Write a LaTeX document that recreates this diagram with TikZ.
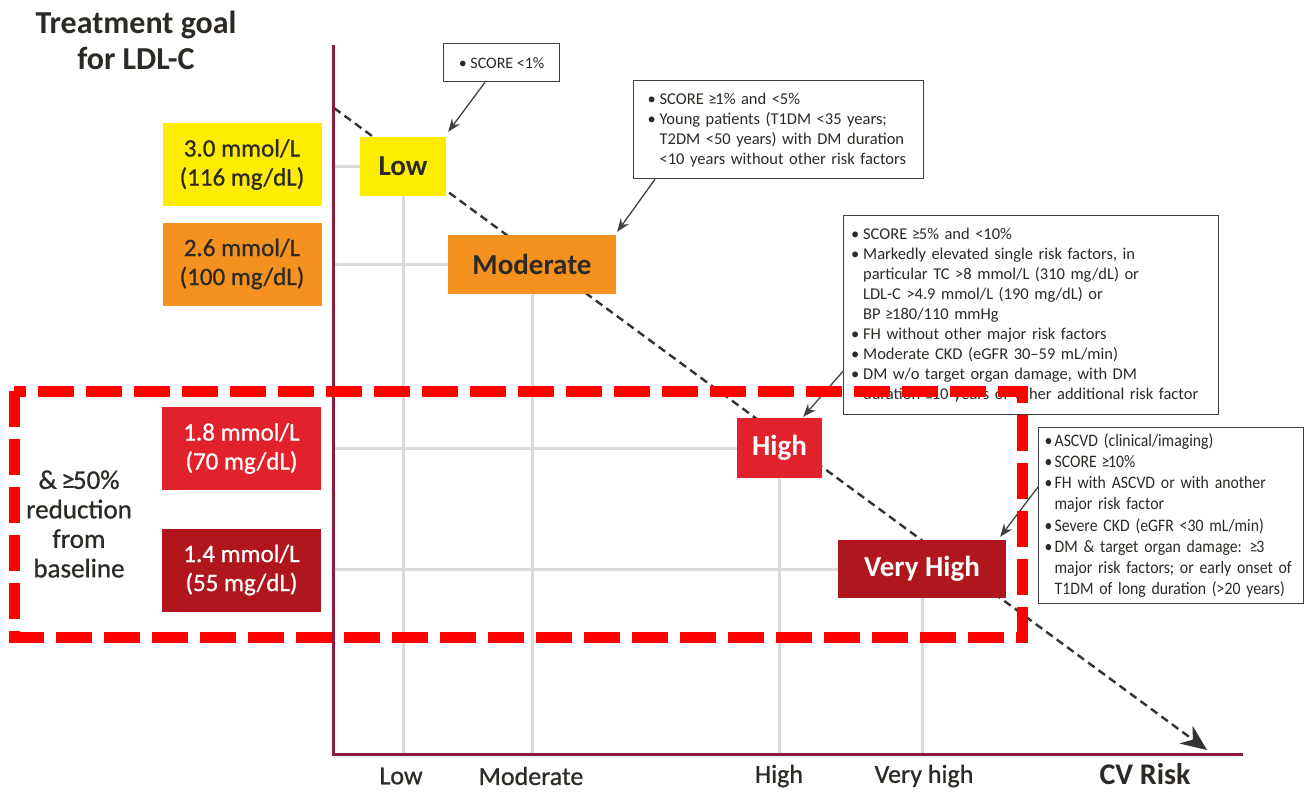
\documentclass[tikz,border=0pt]{standalone}
\usepackage{fontspec}
\setmainfont{Carlito}
\newfontfamily\condfont[FakeStretch=0.9]{Carlito}
\newfontfamily\medfont[FakeBold=0.8]{Carlito}
\usetikzlibrary{arrows.meta,calc}
\definecolor{lowyellow}{HTML}{FFED00}
\definecolor{modorange}{HTML}{F5911E}
\definecolor{highred}{HTML}{E2222B}
\definecolor{vhred}{HTML}{B0161E}
\definecolor{textdark}{HTML}{2D2A26}
\definecolor{axiscol}{HTML}{8E1B3E}
\definecolor{gridgray}{HTML}{DADADA}
\definecolor{boxline}{HTML}{404040}
\definecolor{dashred}{HTML}{FF0000}
\newcommand\bul{\makebox[12pt][l]{•}}
\newcommand\ind{\hspace*{12pt}}
\newcommand\bulc{\makebox[10pt][l]{•}}
\newcommand\indc{\hspace*{10pt}}
\newcommand\myge{\kern-0.06em≥\kern-0.07em}
\begin{document}
\begin{tikzpicture}[x=1pt,y=-1pt,
  goalbox/.style={minimum width=159pt, minimum height=83pt, inner sep=0pt, align=center, font=\medfont\fontsize{25}{29}\selectfont},
  riskbox/.style={inner sep=0pt, font=\bfseries\fontsize{29}{32}\selectfont},
  gridln/.style={draw=gridgray, line width=3pt},
  axisln/.style={draw=axiscol, line width=3pt},
  trend/.style={draw=black!80, line width=2.4pt, dash pattern=on 8pt off 5pt, -{Stealth[length=26pt,width=22pt]}},
  tbox/.style={draw=boxline, line width=1.3pt, fill=white, align=left, anchor=north west, text=textdark},
  callout/.style={draw=boxline, line width=1.3pt, -{Stealth[length=13pt,width=10pt]}},
  reddash/.style={draw=dashred, line width=11pt, dash pattern=on 36pt off 12pt},
  axlabel/.style={text=textdark, inner sep=0pt, font=\medfont\fontsize{26}{28}\selectfont}
]
\useasboundingbox (0,0) rectangle (1304,792);

% axes coordinates
\coordinate (ytop) at (333,45);
\coordinate (O) at (333,754);
\coordinate (xend) at (1243,754);

% title
\node[font=\bfseries\fontsize{32}{36}\selectfont, align=center, text=textdark] (title) at (136,40) {Treatment goal\\for LDL-C};

% goal boxes
\node[goalbox, fill=lowyellow, text=textdark] (g1) at (242,164.5) {3.0 mmol/L\\(116 mg/dL)};
\node[goalbox, fill=modorange, text=textdark] (g2) at (242,264) {2.6 mmol/L\\(100 mg/dL)};
\node[goalbox, fill=highred, text=white] (g3) at (241.5,448.5) {1.8 mmol/L\\(70 mg/dL)};
\node[goalbox, fill=vhred, text=white] (g4) at (241.5,570) {1.4 mmol/L\\(55 mg/dL)};

\node[align=center, text=textdark, font=\medfont\fontsize{27}{29.5}\selectfont] (reduc) at (79,524) {\& \myge50\%\\reduction\\from\\baseline};

% risk boxes (positions)
\node[riskbox, minimum width=86pt, minimum height=59pt] (low) at (403,166.5) {\phantom{Low}};
\node[riskbox, minimum width=168pt, minimum height=59pt] (mod) at (532,264.5) {\phantom{Moderate}};
\node[riskbox, minimum width=85pt, minimum height=60pt] (high) at (779.5,448) {\phantom{High}};
\node[riskbox, minimum width=168pt, minimum height=58pt] (vh) at (922,569) {\phantom{Very High}};

% gridlines
\draw[gridln] (low.west -| O) -- (low.west);
\draw[gridln] (low.south) -- (low.south |- O);
\draw[gridln] (mod.west -| O) -- (mod.west);
\draw[gridln] (mod.south) -- (mod.south |- O);
\draw[gridln] (high.west -| O) -- (high.west);
\draw[gridln] (high.south) -- (high.south |- O);
\draw[gridln] (vh.west -| O) -- (vh.west);
\draw[gridln] (vh.south) -- (vh.south |- O);

% trend line
\coordinate (dstart) at (334,108);
\coordinate (dend) at (1207,750);
\draw[trend] (dstart) -- (dend);

% axes
\draw[axisln] (ytop) -- (O) -- (xend);

% risk boxes drawn
\node[riskbox, minimum width=86pt, minimum height=59pt, fill=lowyellow, text=textdark] at (low) {Low};
\node[riskbox, minimum width=168pt, minimum height=59pt, fill=modorange, text=textdark] at (mod) {Moderate};
\node[riskbox, minimum width=85pt, minimum height=60pt, fill=highred, text=white] at (high) {High};
\node[riskbox, minimum width=168pt, minimum height=58pt, fill=vhred, text=white] at (vh) {Very High};

% axis labels
\node[axlabel] (xl1) at (401,776) {Low};
\node[axlabel] (xl2) at (531,776) {Moderate};
\node[axlabel] (xl3) at (779,776) {High};
\node[axlabel] (xl4) at (924,776) {Very high};
\node[text=textdark, inner sep=0pt, font=\bfseries\fontsize{30}{32}\selectfont] (cv) at (1145,774) {CV Risk};

% text boxes
\node[tbox, minimum width=116pt, minimum height=38pt, align=center, inner sep=0pt, font=\fontsize{16}{20}\selectfont] (b1) at (443,43) {• SCORE <1\%};

\node[tbox, text width=262pt, minimum height=98pt, inner xsep=14pt, inner ysep=0pt, font=\fontsize{16.5}{20}\selectfont] (b2) at (633,80)
{\bul SCORE \myge1\% and <5\%\\
 \bul Young patients (T1DM <35 years;\\
 \ind T2DM <50 years) with DM duration\\
 \ind <10 years without other risk factors};

\node[tbox, text width=360pt, minimum height=199pt, inner xsep=7.5pt, inner ysep=0pt, font=\fontsize{16.5}{20}\selectfont] (b3) at (843,215)
{\bul SCORE \myge5\% and <10\%\\
 \bul Markedly elevated single risk factors, in\\
 \ind particular TC >8 mmol/L (310 mg/dL) or\\
 \ind LDL-C >4.9 mmol/L (190 mg/dL) or\\
 \ind BP \myge180/110 mmHg\\
 \bul FH without other major risk factors\\
 \bul Moderate CKD (eGFR 30–59 mL/min)\\
 \bul DM w/o target organ damage, with DM\\
 \ind duration \myge10 years or other additional risk factor};

\node[tbox, text width=253pt, minimum height=176pt, inner xsep=6pt, inner ysep=0pt, font=\condfont\fontsize{17.5}{21.2}\selectfont] (b4) at (1038,427)
{\bulc ASCVD (clinical/imaging)\\
 \bulc SCORE \myge10\%\\
 \bulc FH with ASCVD or with another\\
 \indc major risk factor\\
 \bulc Severe CKD (eGFR <30 mL/min)\\
 \bulc DM \& target organ damage: \myge3\\
 \indc major risk factors; or early onset of\\
 \indc T1DM of long duration (>20 years)};

% callout arrows
\draw[callout] ($(b1.south west)+(42,0)$) -- ($(low.north east)+(2,-5)$);
\draw[callout] ($(b2.south west)+(22,0)$) -- ($(mod.north east)+(1,-3)$);
\draw[callout] ($(b3.south west)+(0,-44)$) -- ($(high.north east)+(-19,-1)$);
\draw[callout] ($(b4.north west)+(0,60)$) -- ($(vh.north east)+(-6,-3)$);

% red dashed frame
\coordinate (rf1) at (14,391);
\coordinate (rf2) at (1022,637);
\draw[reddash] (rf1) rectangle (rf2);
\end{tikzpicture}
\end{document}
